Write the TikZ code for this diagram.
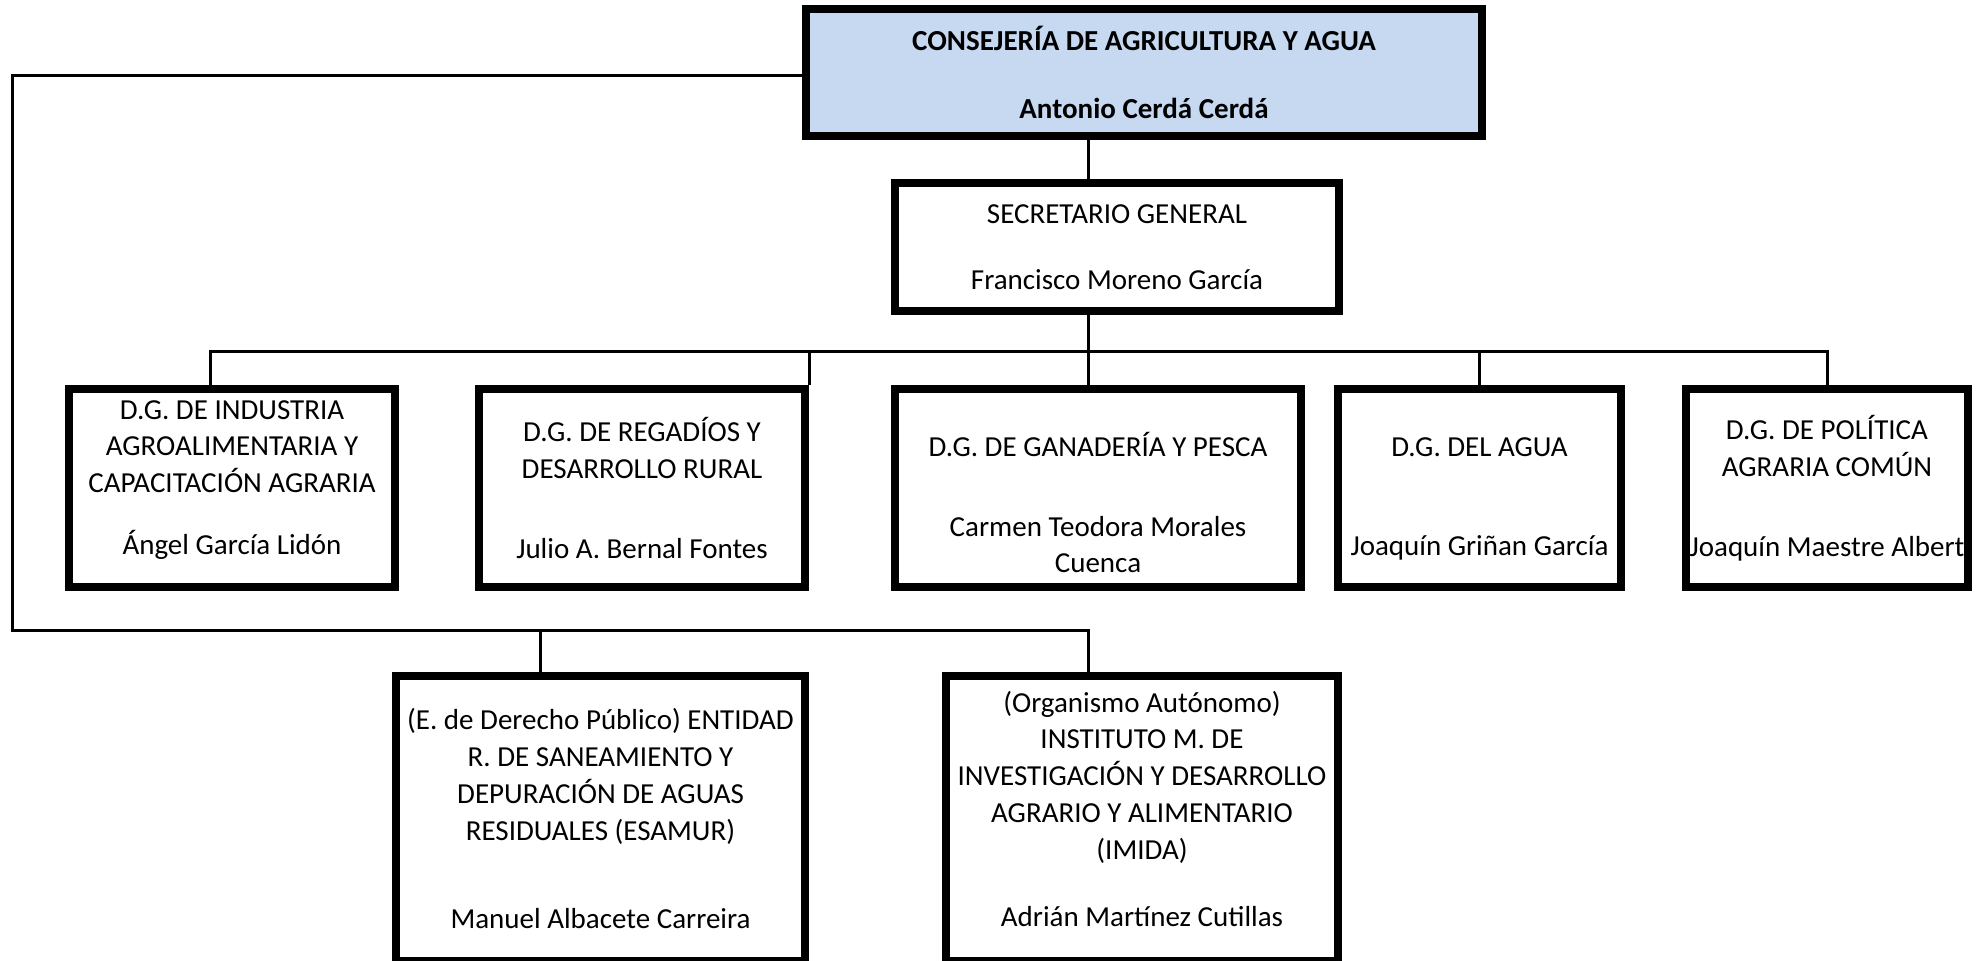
\documentclass[tikz,border=0pt]{standalone}
\usepackage{fontspec}
\setmainfont{Carlito}
\usetikzlibrary{positioning}
\definecolor{headblue}{RGB}{198,217,241}

\begin{document}
\begin{tikzpicture}[
    x=0.5pt, y=-0.5pt,
    on grid,
    font=\fontsize{14.5}{18.35}\selectfont,
    orgbox/.style={draw=black, line width=4pt, inner sep=0pt, align=center},
    headbox/.style={orgbox, fill=headblue, font=\fontsize{14.5}{18.35}\selectfont\bfseries},
    unit/.style={orgbox, minimum width=163pt, minimum height=99pt},
    agency/.style={orgbox, minimum height=142.5pt},
    link/.style={line width=1.5pt}
]
   \useasboundingbox (0,0) rectangle (1988,961);

   % Consejeria and secretary
   \node[headbox, minimum width=338pt, minimum height=63.5pt] (top) at (1144,72.5)
      {CONSEJERÍA DE AGRICULTURA Y AGUA\\[15.4pt]Antonio Cerdá Cerdá};
   \node[orgbox, minimum width=222pt, minimum height=64pt] (sec) at (1117,247)
      {SECRETARIO GENERAL\\[14.65pt]Francisco Moreno García};

   % Direcciones generales
   \node[unit] (dgone) at (232,488)
      {D.G. DE INDUSTRIA\\AGROALIMENTARIA Y\\CAPACITACIÓN AGRARIA\\[12.65pt]Ángel García Lidón\\[-7.85pt]\mbox{}};
   \node[unit] (dgtwo) [right=205pt of dgone]
      {D.G. DE REGADÍOS Y\\DESARROLLO RURAL\\[21.65pt]Julio A. Bernal Fontes};
   \node[unit, minimum width=203pt] (dgthree) [right=228pt of dgtwo]
      {\mbox{}\\[8.25pt]D.G. DE GANADERÍA Y PESCA\\[21.65pt]Carmen Teodora Morales\\Cuenca};
   \node[unit, minimum width=141.5pt] (dgfour) [right=190.75pt of dgthree]
      {\mbox{}\\[2.35pt]D.G. DEL AGUA\\[31.15pt]Joaquín Griñan García};
   \node[unit, minimum width=141pt] (dgfive) [right=173.75pt of dgfour]
      {D.G. DE POLÍTICA\\AGRARIA COMÚN\\[21.65pt]Joaquín Maestre Albert};

   % Organismos
   \node[agency, minimum width=204.5pt] (esamur) at (600.5,818.5)
      {(E. de Derecho Público) ENTIDAD\\R. DE SANEAMIENTO Y\\DEPURACIÓN DE AGUAS\\RESIDUALES (ESAMUR)\\[25.65pt]Manuel Albacete Carreira};
   \node[agency, minimum width=196pt] (imida) [right=270.75pt of esamur]
      {(Organismo Autónomo)\\INSTITUTO M. DE\\INVESTIGACIÓN Y DESARROLLO\\AGRARIO Y ALIMENTARIO\\(IMIDA)\\[15.15pt]Adrián Martínez Cutillas\\[-8.35pt]\mbox{}};

   % Connectors
   \coordinate (spine) at (1088,352);
   \coordinate (rail) at (12,631);
   \coordinate (railtop) at ([yshift=-1.75pt]top.west);
   \coordinate (dgonedrop) at ([xshift=-11pt]dgone.north);
   \coordinate (esamurdrop) at ([xshift=-30pt]esamur.north);
   \draw[link] (top.south -| spine) -- (sec.north -| spine);
   \draw[link] (sec.south -| spine) -- (spine);
   \draw[link] (dgonedrop) |- (dgfive.north |- spine) -- (dgfive.north);
   \draw[link] (dgtwo.north east) -- (dgtwo.north east |- spine);
   \draw[link] (dgthree.north -| spine) -- (spine);
   \draw[link] (dgfour.north) -- (dgfour.north |- spine);
   \draw[link] (railtop) -| (rail) -| (imida.north -| spine);
   \draw[link] (esamurdrop) -- (esamurdrop |- rail);
\end{tikzpicture}
\end{document}
